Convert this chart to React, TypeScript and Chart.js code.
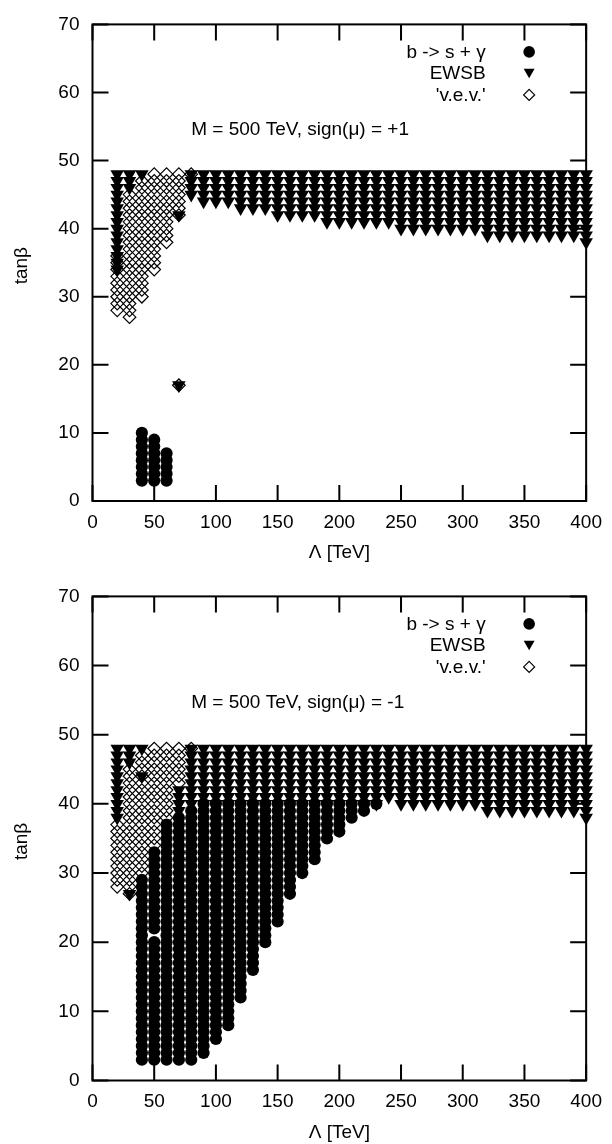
import React, { useEffect, useRef } from 'react';
import { Chart, registerables } from 'chart.js';

Chart.register(...registerables);

// ---------- texts & ticks ----------
const xTicks = [0, 50, 100, 150, 200, 250, 300, 350, 400];
const yTicks = [0, 10, 20, 30, 40, 50, 60, 70];
const legendLabels = ['b -> s + \u03b3', 'EWSB', "'v.e.v.'"];
const xTitle = '\u039b [TeV]';
const yTitle = 'tan\u03b2';
const noteTop = 'M = 500 TeV, sign(\u03bc) = +1';
const noteBottom = 'M = 500 TeV, sign(\u03bc) = -1';

// ---------- top panel (sign mu = +1): columns of excluded grid points ----------
// each entry: Lambda value, lowest tan(beta), highest tan(beta) of a contiguous run
const topBsgLambda = [40, 50, 60];
const topBsgMin = [3, 3, 3];
const topBsgMax = [10, 9, 7];

const topEwsbLambda = [20, 30, 40, 70, 70, 80, 90, 100, 110, 120, 130, 140, 150, 160, 170, 180, 190, 200, 210, 220, 230, 240, 250, 260, 270, 280, 290, 300, 310, 320, 330, 340, 350, 360, 370, 380, 390, 400];
const topEwsbMin = [34, 46, 48, 42, 17, 45, 44, 44, 44, 43, 43, 43, 42, 42, 42, 42, 41, 41, 41, 41, 41, 41, 40, 40, 40, 40, 40, 40, 40, 39, 39, 39, 39, 39, 39, 39, 39, 38];
const topEwsbMax = [48, 48, 48, 42, 17, 48, 48, 48, 48, 48, 48, 48, 48, 48, 48, 48, 48, 48, 48, 48, 48, 48, 48, 48, 48, 48, 48, 48, 48, 48, 48, 48, 48, 48, 48, 48, 48, 48];

const topVevLambda = [20, 30, 40, 50, 60, 70, 70, 80];
const topVevMin = [28, 27, 30, 34, 38, 42, 17, 48];
const topVevMax = [36, 45, 47, 48, 48, 48, 17, 48];

// ---------- bottom panel (sign mu = -1) ----------
const botBsgLambda = [40, 50, 50, 60, 70, 80, 90, 100, 110, 120, 130, 140, 150, 160, 170, 180, 190, 200, 210, 220, 230];
const botBsgMin = [3, 3, 22, 3, 3, 3, 4, 6, 8, 12, 16, 20, 23, 27, 30, 32, 35, 36, 38, 39, 40];
const botBsgMax = [29, 20, 33, 37, 38, 39, 40, 40, 40, 40, 40, 40, 40, 40, 40, 40, 40, 40, 40, 40, 40];

const botEwsbLambda = [20, 30, 30, 40, 40, 70, 80, 90, 100, 110, 120, 130, 140, 150, 160, 170, 180, 190, 200, 210, 220, 230, 240, 250, 260, 270, 280, 290, 300, 310, 320, 330, 340, 350, 360, 370, 380, 390, 400];
const botEwsbMin = [38, 46, 27, 48, 44, 39, 40, 40, 40, 40, 40, 40, 40, 40, 40, 40, 40, 40, 40, 40, 40, 40, 41, 40, 40, 40, 40, 40, 40, 40, 39, 39, 39, 39, 39, 39, 39, 39, 38];
const botEwsbMax = [48, 48, 27, 48, 44, 42, 48, 48, 48, 48, 48, 48, 48, 48, 48, 48, 48, 48, 48, 48, 48, 48, 48, 48, 48, 48, 48, 48, 48, 48, 48, 48, 48, 48, 48, 48, 48, 48, 48];

const botVevLambda = [20, 30, 40, 50, 60, 70, 80];
const botVevMin = [28, 27, 30, 34, 38, 43, 48];
const botVevMax = [37, 45, 47, 48, 48, 48, 48];

// ---------- helpers ----------
const FONT = '"Liberation Sans", Arial, Helvetica, sans-serif';
const TICK = 16;

function gridPoints(lams: number[], mins: number[], maxs: number[]) {
  const pts: { x: number; y: number }[] = [];
  for (let i = 0; i < lams.length; i++) {
    for (let t = mins[i]; t <= maxs[i]; t++) pts.push({ x: lams[i], y: t });
  }
  return pts;
}

function drawMarker(ctx: CanvasRenderingContext2D, kind: number, x: number, y: number) {
  ctx.save();
  ctx.fillStyle = '#000';
  ctx.strokeStyle = '#000';
  if (kind === 0) {
    ctx.beginPath();
    ctx.arc(x, y, 5.8, 0, Math.PI * 2);
    ctx.fill();
  } else if (kind === 1) {
    const r = 6.3;
    const c = y - r / 4;
    ctx.beginPath();
    ctx.moveTo(x, c + r);
    ctx.lineTo(x - r * 0.866, c - r / 2);
    ctx.lineTo(x + r * 0.866, c - r / 2);
    ctx.closePath();
    ctx.fill();
  } else {
    const h = 5.5;
    ctx.lineWidth = 1.2;
    ctx.beginPath();
    ctx.moveTo(x, y - h);
    ctx.lineTo(x + h, y);
    ctx.lineTo(x, y + h);
    ctx.lineTo(x - h, y);
    ctx.closePath();
    ctx.stroke();
  }
  ctx.restore();
}

function makeOverlay(note: string) {
  return {
    id: 'overlay',
    afterDatasetsDraw(chart: any) {
      const { ctx, chartArea: a } = chart;
      const xs = chart.scales.x;
      const ys = chart.scales.y;
      ctx.save();
      ctx.strokeStyle = '#000';
      ctx.lineWidth = 2;
      ctx.beginPath();
      xTicks.forEach((v) => {
        const p = xs.getPixelForValue(v);
        ctx.moveTo(p, a.bottom);
        ctx.lineTo(p, a.bottom - TICK);
        ctx.moveTo(p, a.top);
        ctx.lineTo(p, a.top + TICK);
      });
      yTicks.forEach((v) => {
        const p = ys.getPixelForValue(v);
        ctx.moveTo(a.left, p);
        ctx.lineTo(a.left + TICK, p);
        ctx.moveTo(a.right, p);
        ctx.lineTo(a.right - TICK, p);
      });
      ctx.stroke();
      ctx.strokeRect(a.left, a.top, a.right - a.left, a.bottom - a.top);

      ctx.fillStyle = '#000';
      ctx.font = `19px ${FONT}`;
      ctx.textAlign = 'right';
      ctx.textBaseline = 'alphabetic';
      legendLabels.forEach((t, i) => {
        const by = a.top + 33.5 + i * 21.5;
        ctx.fillText(t, a.right - 100.5, by);
        drawMarker(ctx, i, a.right - 57, by - 6);
      });

      ctx.textAlign = 'left';
      ctx.fillText(note, xs.getPixelForValue(80), ys.getPixelForValue(53.8));

      ctx.textAlign = 'center';
      ctx.textBaseline = 'middle';
      ctx.fillText(xTitle, (a.left + a.right) / 2, a.bottom + 52);

      ctx.translate(26.5, (a.top + a.bottom) / 2 + 3);
      ctx.rotate(-Math.PI / 2);
      ctx.textBaseline = 'alphabetic';
      ctx.fillText(yTitle, 0, 0);
      ctx.restore();
    },
  };
}

type PanelCfg = {
  bsg: { x: number; y: number }[];
  ewsb: { x: number; y: number }[];
  vev: { x: number; y: number }[];
  note: string;
  padTop: number;
  xHeight: number;
};

function buildConfig(cfg: PanelCfg): any {
  const tickFont = { family: FONT, size: 19 };
  return {
    type: 'scatter',
    data: {
      datasets: [
        {
          label: legendLabels[0],
          data: cfg.bsg,
          order: 2,
          pointStyle: 'circle',
          pointRadius: 6.1,
          pointBorderWidth: 0,
          backgroundColor: '#000',
          borderColor: '#000',
          clip: false,
        },
        {
          label: legendLabels[1],
          data: cfg.ewsb,
          order: 1,
          pointStyle: 'triangle',
          rotation: 180,
          pointRadius: 7.8,
          pointBorderWidth: 0,
          backgroundColor: '#000',
          borderColor: '#000',
          clip: false,
        },
        {
          label: legendLabels[2],
          data: cfg.vev,
          order: 0,
          pointStyle: 'rectRot',
          pointRadius: 6.3,
          pointBorderWidth: 1.2,
          backgroundColor: 'rgba(0,0,0,0)',
          borderColor: '#000',
          clip: false,
        },
      ],
    },
    options: {
      animation: false,
      responsive: false,
      events: [],
      layout: { padding: { top: cfg.padTop, right: 22.5, bottom: 0, left: 0 } },
      plugins: { legend: { display: false }, tooltip: { enabled: false } },
      scales: {
        x: {
          type: 'linear',
          min: 0,
          max: 400,
          grid: { display: false, drawTicks: false },
          border: { display: false },
          ticks: { stepSize: 50, font: tickFont, color: '#000', padding: 10, maxRotation: 0, autoSkip: false },
          afterFit: (s: any) => {
            s.height = cfg.xHeight;
          },
        },
        y: {
          type: 'linear',
          min: 0,
          max: 70,
          grid: { display: false, drawTicks: false },
          border: { display: false },
          ticks: { stepSize: 10, font: tickFont, color: '#000', padding: 13 },
          afterFit: (s: any) => {
            s.width = 92.5;
          },
        },
      },
    },
    plugins: [makeOverlay(cfg.note)],
  };
}

function Panel({ cfg }: { cfg: PanelCfg }) {
  const ref = useRef<HTMLCanvasElement>(null);
  useEffect(() => {
    const chart = new Chart(ref.current as HTMLCanvasElement, buildConfig(cfg));
    return () => chart.destroy();
  }, []);
  return <canvas ref={ref} width={612} height={572} style={{ display: 'block', width: 612, height: 572 }} />;
}

const topCfg: PanelCfg = {
  bsg: gridPoints(topBsgLambda, topBsgMin, topBsgMax),
  ewsb: gridPoints(topEwsbLambda, topEwsbMin, topEwsbMax),
  vev: gridPoints(topVevLambda, topVevMin, topVevMax),
  note: noteTop,
  padTop: 15,
  xHeight: 71,
};

const bottomCfg: PanelCfg = {
  bsg: gridPoints(botBsgLambda, botBsgMin, botBsgMax),
  ewsb: gridPoints(botEwsbLambda, botEwsbMin, botEwsbMax),
  vev: gridPoints(botVevLambda, botVevMin, botVevMax),
  note: noteBottom,
  padTop: 21,
  xHeight: 63.5,
};

export default function App() {
  return (
    <div style={{ position: 'absolute', left: 0, top: 0, width: 612, height: 1144, background: '#fff' }}>
      <Panel cfg={topCfg} />
      <Panel cfg={bottomCfg} />
    </div>
  );
}
